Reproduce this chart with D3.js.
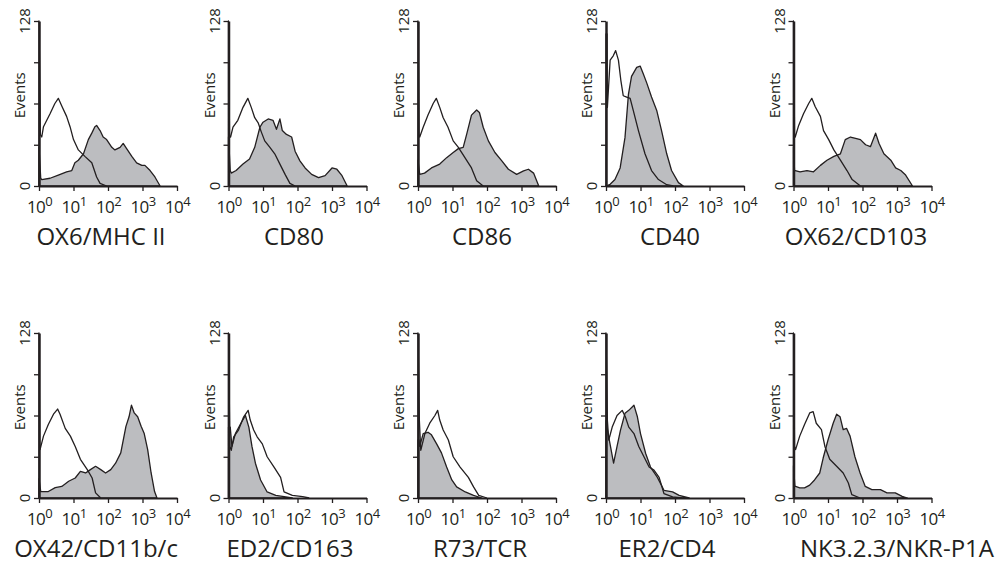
<!DOCTYPE html>
<html>
<head>
<meta charset="utf-8">
<script src="https://cdn.jsdelivr.net/npm/d3@7"></script>
<style>
  body { margin: 0; background: #fff; }
  text { font-family: "Open Sans", sans-serif; fill: #231f20; }
</style>
</head>
<body>
<svg id="chart" width="996" height="565"></svg>
<script>
// marker names, one per panel
var markers = ["OX6/MHC II", "CD80", "CD86", "CD40", "OX62/CD103",
               "OX42/CD11b/c", "ED2/CD163", "R73/TCR", "ER2/CD4", "NK3.2.3/NKR-P1A"];

// isotype control (open) histograms: [decade, events]
var openCurves = [
  [[0,0],[0,128],[0.04,40],[0.08,38],[0.13,46],[0.32,56],[0.46,64],[0.56,68],[0.66,62],[0.80,54],[0.90,46],[1.0,36],[1.14,28],[1.33,23],[1.53,18],[1.67,7],[1.77,2],[1.96,0]],
  [[0,0],[0,128],[0.03,38],[0.06,38],[0.13,45.6],[0.27,51],[0.42,61],[0.56,68],[0.66,61],[0.76,53],[0.86,49],[0.95,42],[1.05,35],[1.20,30],[1.34,25],[1.49,17],[1.64,9],[1.78,2],[1.93,0]],
  [[0,0],[0,128],[0.03,40],[0.05,38],[0.15,45.6],[0.29,55],[0.44,64],[0.53,68],[0.63,61],[0.73,53],[0.87,45.6],[1.02,35],[1.17,30],[1.36,22],[1.55,14],[1.70,4],[1.89,0]],
  [[0,0],[0,118],[0.03,118],[0.04,61],[0.12,97.7],[0.21,101],[0.28,105],[0.36,97.7],[0.43,82],[0.50,70],[0.60,69],[0.70,68],[0.79,58.6],[0.94,43],[1.13,25],[1.32,12],[1.52,5],[1.76,1],[1.95,0]],
  [[0,0],[0,128],[0.03,40],[0.05,38],[0.15,47],[0.29,56],[0.44,64],[0.53,68],[0.63,61.5],[0.78,54],[0.87,43],[1.02,36],[1.17,28],[1.36,20],[1.55,12],[1.70,5],[1.94,0]],
  [[0,0],[0,128],[0.02,40],[0.03,37.5],[0.13,48],[0.27,57],[0.42,65],[0.54,69],[0.61,65],[0.76,54],[0.91,48],[1.05,40],[1.20,30],[1.40,22],[1.54,15.5],[1.64,4],[1.79,0]],
  [[0,0],[0,128],[0.04,40],[0.08,37],[0.15,47.5],[0.29,52.7],[0.44,63],[0.57,68],[0.63,60.5],[0.73,52.7],[0.83,47.5],[0.98,42],[1.12,32],[1.32,24],[1.51,16],[1.61,4.7],[1.85,2],[2.15,1],[2.34,0]],
  [[0,0],[0,128],[0.04,60],[0.08,37],[0.20,50],[0.34,58],[0.49,64],[0.57,68],[0.63,60.5],[0.73,52.7],[0.88,45],[1.02,32],[1.22,24],[1.46,16],[1.61,8.6],[1.76,2],[2.0,0]],
  [[0,0],[0,128],[0.04,60],[0.08,45],[0.18,55],[0.32,64],[0.47,68],[0.56,63],[0.66,55],[0.81,50],[0.95,40],[1.10,32],[1.25,24],[1.39,21.6],[1.54,16],[1.68,3.4],[1.93,0.8],[2.22,0]],
  [[0,0],[0,128],[0.03,40],[0.06,37.5],[0.18,48],[0.32,57],[0.47,66],[0.57,67],[0.66,58],[0.81,53],[0.91,40],[1.05,30],[1.25,24.6],[1.44,19.4],[1.59,11.6],[1.69,2.6],[1.93,0]]
];

// stained (filled) histograms: [decade, events]
var filledCurves = [
  [[0,0],[0,30],[0.05,6],[0.08,5],[0.32,6],[0.56,8.5],[0.80,11],[0.95,12],[1.04,18],[1.14,20],[1.29,25],[1.43,36],[1.53,41],[1.62,46],[1.67,47],[1.77,43],[1.86,38],[1.96,36],[2.11,30],[2.20,28],[2.35,30],[2.44,33],[2.54,29],[2.69,23],[2.83,18],[2.98,16],[3.07,16],[3.22,12],[3.36,7],[3.51,0]],
  [[0,0],[0,38],[0.05,12],[0.08,10],[0.22,12],[0.42,17],[0.61,21],[0.76,30],[0.91,45.6],[1.0,49.5],[1.15,52],[1.29,51],[1.39,44],[1.49,52],[1.56,43],[1.68,40],[1.83,38],[1.93,27],[2.07,19.5],[2.22,14],[2.41,9],[2.61,6.5],[2.80,8],[3.0,14],[3.14,13],[3.29,8],[3.44,0]],
  [[0,0],[0,20],[0.05,9],[0.19,10],[0.39,14],[0.63,17],[0.83,22],[1.02,26],[1.17,29],[1.31,30],[1.41,40],[1.55,55],[1.70,59],[1.78,57],[1.89,45.6],[2.04,35],[2.23,26],[2.43,19.5],[2.62,13],[2.86,9],[3.06,11.7],[3.20,13],[3.35,10],[3.50,0]],
  [[0,0],[0.12,1.3],[0.26,5],[0.41,14],[0.55,37.5],[0.65,71],[0.74,85],[0.89,92],[0.99,93],[1.08,87],[1.18,80],[1.32,69],[1.47,58.6],[1.61,43],[1.76,25],[1.90,12],[2.10,2.6],[2.24,0]],
  [[0,0],[0,30],[0.03,12],[0.05,12],[0.19,11],[0.39,12],[0.58,11],[0.78,16],[0.97,20],[1.17,23],[1.36,25],[1.50,36],[1.65,38],[1.80,37],[1.94,36],[2.09,32],[2.23,30.5],[2.38,41],[2.48,33],[2.62,25],[2.82,20],[2.96,14],[3.11,12],[3.25,8.5],[3.45,0]],
  [[0,0],[0,15],[0.05,5],[0.08,5],[0.27,5],[0.47,8],[0.66,9],[0.86,13],[1.05,15.5],[1.20,20.7],[1.35,19.4],[1.49,22],[1.64,24.6],[1.79,22],[1.93,19.4],[2.08,22],[2.22,27],[2.37,35],[2.52,55.6],[2.61,63],[2.68,72],[2.76,66],[2.86,63],[2.96,55.6],[3.05,50],[3.15,37.5],[3.25,19.4],[3.35,5],[3.42,0]],
  [[0,0],[0,55],[0.05,55],[0.10,40],[0.20,50],[0.34,57],[0.49,64],[0.59,55],[0.68,40],[0.78,27],[0.93,14],[1.12,4.7],[1.37,2],[1.66,0.8],[1.85,0]],
  [[0,0],[0,45],[0.03,45],[0.05,40],[0.15,50],[0.29,51],[0.39,49],[0.54,42],[0.68,35],[0.83,24],[0.98,14],[1.12,8.6],[1.37,4.7],[1.61,2],[1.85,0]],
  [[0,0],[0,60],[0.06,50],[0.13,40],[0.22,27],[0.32,40],[0.42,52.7],[0.55,65.7],[0.66,68],[0.81,72],[0.91,63],[1.0,50],[1.15,34.5],[1.29,24],[1.49,16],[1.68,6],[1.93,4.7],[2.12,2],[2.41,0]],
  [[0,0],[0,25],[0.04,9],[0.06,9],[0.18,7.8],[0.32,7.8],[0.47,10],[0.61,14],[0.76,19.4],[0.86,31],[1.0,45],[1.15,58],[1.25,65],[1.35,63],[1.44,53],[1.54,54],[1.64,48],[1.78,32],[1.93,19.4],[2.08,9],[2.27,6.5],[2.52,6.5],[2.71,4],[2.95,4],[3.15,1.3],[3.30,0]]
];

var decadeTicks = [1, 10, 100, 1000, 10000];
var eventTicks = [0, 32, 64, 96, 128];
var eventLabels = ["0", "128"];

// layout
var colX = [39, 228.5, 418, 606, 793.5];
var rowY = [21, 333];
var titleDx = [62, 65.5, 64, 64, 62.5, 57, 61.5, 62, 61, 103.5];
var w = 138, h = 165;
var ink = "#231f20", grey = "#bcbdc0";

var svg = d3.select("#chart");

var x = d3.scaleLog().domain([1, 10000]).range([0, w]);
var y = d3.scaleLinear().domain([0, 128]).range([h, 0]);

var area = d3.area()
    .x(function(d){ return x(Math.pow(10, d[0])); })
    .y0(h)
    .y1(function(d){ return y(Math.min(d[1], 128)); });
var line = d3.line()
    .x(function(d){ return x(Math.pow(10, d[0])); })
    .y(function(d){ return y(Math.min(d[1], 128)); });

markers.forEach(function(name, i){
  var g = svg.append("g")
      .attr("transform", "translate(" + colX[i % 5] + "," + rowY[Math.floor(i / 5)] + ")");

  g.append("path").datum(filledCurves[i])
      .attr("d", area)
      .attr("fill", grey)
      .attr("stroke", ink)
      .attr("stroke-width", 1.3)
      .attr("stroke-linejoin", "round");

  g.append("path").datum(openCurves[i])
      .attr("d", line)
      .attr("fill", "none")
      .attr("stroke", ink)
      .attr("stroke-width", 1.3)
      .attr("stroke-linejoin", "round");

  var xa = g.append("g")
      .attr("transform", "translate(0," + h + ")")
      .call(d3.axisBottom(x).tickValues(decadeTicks).tickSize(5).tickSizeOuter(0).tickFormat(""));
  xa.select(".domain").attr("stroke", ink).attr("stroke-width", 2);
  xa.selectAll(".tick line").attr("stroke", ink).attr("stroke-width", 1.3);
  xa.selectAll(".tick").each(function(d){
    var t = d3.select(this).append("text")
        .attr("y", 27).attr("text-anchor", "middle")
        .style("font-size", "17px").style("letter-spacing", "-0.6px").attr("fill", ink);
    t.append("tspan").text("10");
    t.append("tspan").attr("dy", -7).style("font-size", "13px").text(Math.round(Math.log10(d)));
  });

  var ya = g.append("g")
      .call(d3.axisLeft(y).tickValues(eventTicks).tickSize(5).tickSizeOuter(0).tickFormat(""));
  ya.select(".domain").attr("stroke", ink).attr("stroke-width", 2.5);
  ya.selectAll(".tick line").attr("stroke", ink).attr("stroke-width", 1.3);

  [0, 128].forEach(function(v, k){
    g.append("text")
        .attr("transform", "translate(-9," + y(v) + ") rotate(-90)")
        .attr("text-anchor", "middle")
        .style("font-size", "15px")
        .text(eventLabels[k]);
  });

  g.append("text")
      .attr("transform", "translate(-14," + (h * 0.45) + ") rotate(-90)")
      .attr("text-anchor", "middle")
      .style("font-size", "15px")
      .text("Events");

  g.append("text")
      .attr("x", titleDx[i]).attr("y", h + 59)
      .attr("text-anchor", "middle")
      .style("font-size", "24px")
      .text(name);
});
</script>
</body>
</html>
